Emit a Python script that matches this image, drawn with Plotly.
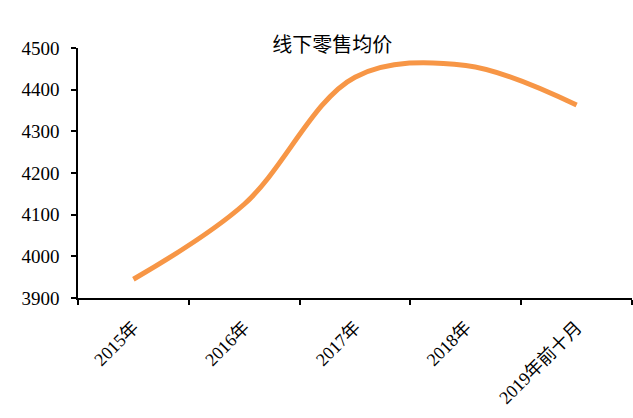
import plotly.graph_objects as go

categories = ["2015年", "2016年", "2017年", "2018年", "2019年前十月"]
avg_price = [3945, 4125, 4430, 4458, 4363]
y_ticks = [3900, 4000, 4100, 4200, 4300, 4400, 4500]

FONT = "Liberation Serif, DejaVu Serif, Noto Sans CJK SC, serif"

fig = go.Figure()
fig.add_trace(go.Scatter(
    x=categories, y=avg_price, mode="lines",
    line=dict(color="#F79646", width=5, shape="spline", smoothing=1.0),
    showlegend=False,
))

fig.update_layout(
    width=633, height=418,
    margin=dict(l=78, r=1, t=48, b=120),
    paper_bgcolor="white", plot_bgcolor="white",
    font=dict(family=FONT, size=18, color="black"),
    title=dict(text="线下零售均价", x=0.525, xanchor="center", y=0.893, yanchor="middle",
               font=dict(family="Noto Sans CJK SC", size=20, color="black")),
)
fig.update_xaxes(
    type="category", range=[-0.5, 4.5], tickangle=-45, tickson="boundaries",
    ticks="outside", ticklen=5, tickwidth=1.5, tickcolor="black",
    showline=True, linecolor="black", linewidth=1.5,
    showgrid=False, zeroline=False, ticklabelstandoff=10,
    tickfont=dict(family=FONT, size=18),
)
fig.update_yaxes(
    range=[3900, 4500], tickvals=y_ticks,
    ticks="outside", ticklen=5, tickwidth=1.5, tickcolor="black",
    showline=True, linecolor="black", linewidth=1.5,
    showgrid=False, zeroline=False, ticklabelstandoff=8,
    tickfont=dict(family=FONT, size=19),
)

fig.write_html("out.html")
